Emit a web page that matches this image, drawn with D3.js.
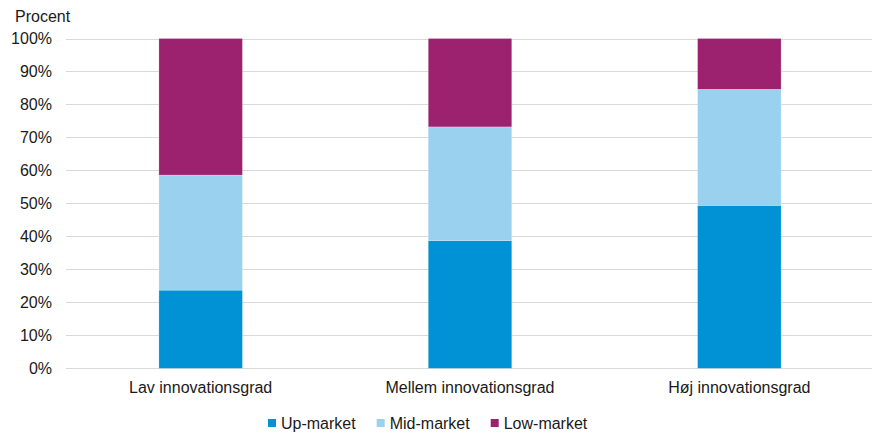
<!DOCTYPE html>
<html>
<head>
<meta charset="utf-8">
<script src="https://cdn.jsdelivr.net/npm/d3@7"></script>
<style>
  body { margin: 0; background: #fff; }
  svg { display: block; font-family: "Liberation Sans", Arial, sans-serif; }
</style>
</head>
<body>
<svg id="chart" width="874" height="433"></svg>
<script>
// Share of firms by market segment, per level of innovation (percent)
const categories = ["Lav innovationsgrad", "Mellem innovationsgrad", "Høj innovationsgrad"];
const seriesNames = ["Up-market", "Mid-market", "Low-market"];
const upMarket  = [23.7, 38.7, 49.4];
const midMarket = [34.9, 34.5, 35.2];
const lowMarket = [41.4, 26.8, 15.4];
const seriesColors = ["#0092d5", "#99d1ee", "#9c2270"];
const yTicks = [0, 10, 20, 30, 40, 50, 60, 70, 80, 90, 100];

const rows = categories.map((c, i) => ({
  cat: c, "Up-market": upMarket[i], "Mid-market": midMarket[i], "Low-market": lowMarket[i]
}));
const stacked = d3.stack().keys(seriesNames)(rows);

const svg = d3.select("#chart");
const m = { left: 66, right: 0, top: 38.5 };
const W = 874;

const x = d3.scaleBand().domain(categories).range([m.left, W - m.right]).paddingInner(0.69).paddingOuter(0.345);
const y = d3.scaleLinear().domain([0, 100]).range([368.3, m.top]);

// gridlines
svg.append("g").selectAll("line").data(yTicks).join("line")
  .attr("x1", m.left).attr("x2", W - 2)
  .attr("y1", d => Math.round(y(d)) + 0.5).attr("y2", d => Math.round(y(d)) + 0.5)
  .attr("stroke", "#d9d9d9").attr("stroke-width", 1);

// y tick labels
svg.append("g").selectAll("text").data(yTicks).join("text")
  .attr("x", 52).attr("y", d => y(d)).attr("dy", "0.35em")
  .attr("text-anchor", "end").attr("font-size", 16).attr("fill", "#1a1a1a")
  .text(d => d + "%");

svg.append("text").attr("x", 15).attr("y", 22).attr("font-size", 16).attr("fill", "#1a1a1a").text("Procent");

// stacked bars
svg.append("g").selectAll("g").data(stacked).join("g")
  .attr("fill", (d, i) => seriesColors[i])
  .selectAll("rect").data(d => d).join("rect")
  .attr("x", d => x(d.data.cat))
  .attr("width", x.bandwidth())
  .attr("y", d => y(d[1]))
  .attr("height", d => y(d[0]) - y(d[1]))
  .attr("stroke", "#ffffff").attr("stroke-opacity", 0.35).attr("stroke-width", 0.6);

// category labels
svg.append("g").selectAll("text").data(categories).join("text")
  .attr("x", d => x(d) + x.bandwidth() / 2).attr("y", 392.5)
  .attr("text-anchor", "middle").attr("font-size", 16).attr("fill", "#1a1a1a")
  .text(d => d);

// legend
const leg = svg.append("g");
let lx = 268;
seriesNames.forEach((name, i) => {
  leg.append("rect").attr("x", lx).attr("y", 419).attr("width", 8).attr("height", 8).attr("fill", seriesColors[i]);
  const t = leg.append("text").attr("x", lx + 13).attr("y", 428.5).attr("font-size", 16).attr("fill", "#1a1a1a").text(name);
  lx += 13 + t.node().getComputedTextLength() + 21;
});
</script>
</body>
</html>
